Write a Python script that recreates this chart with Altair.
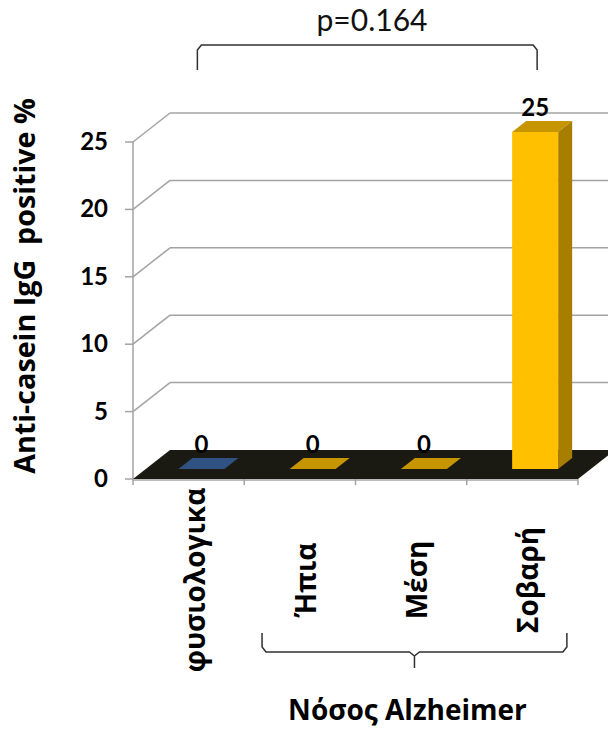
import altair as alt
import numpy as np
import pandas as pd

# ---------------- data ----------------
categories = ["φυσιολογικα", "Ήπια", "Μέση", "Σοβαρή"]
values = [0, 0, 0, 25]
front_colors = ["#3F68A8", "#FFC000", "#FFC000", "#FFC000"]
top_colors = ["#2F5282", "#C69500", "#C69500", "#C69500"]
side_colors = ["#2A4670", "#A87E00", "#A87E00", "#A87E00"]
y_ticks = [0, 5, 10, 15, 20, 25]
p_label = "p=0.164"
group_label = "Νόσος Alzheimer"
y_title = "Anti-casein IgG\u00a0 positive %"
group_members = [1, 2, 3]  # categories covered by the Alzheimer brace

# ---------------- geometry ----------------
W, H = 608, 735
X0, UX = 133.0, 111.25      # pixel of category origin, pixels per category
Y0, UY = 479.0, 13.48       # pixel of value 0, pixels per value unit
xmin, xmax = -X0 / UX, (W - X0) / UX
ymin, ymax = (Y0 - H) / UY, Y0 / UY


def ux(px):
    return (px - X0) / UX


def vy(py):
    return (Y0 - py) / UY


DU, DV = 37 / UX, 29 / UY          # depth of the floor
du_f, dv_f = DU * 10 / 29, DV * 10 / 29
du_b, dv_b = DU * 21 / 29, DV * 21 / 29
ddu, ddv = du_b - du_f, dv_b - dv_f
hw = 23 / UX

xs = alt.Scale(domain=[xmin, xmax], nice=False, zero=False)
ys = alt.Scale(domain=[ymin, ymax], nice=False, zero=False)
n = len(categories)
GRID = "#A3A3A3"

# bars
centers = np.arange(n) + 0.5 + du_f
bars = pd.DataFrame({
    "cat": categories, "val": values, "fc": front_colors,
    "xl": centers - hw, "xr": centers + hw,
    "y0": [dv_f] * n, "y1": [v + dv_f for v in values],
    "c": centers, "lab": [str(v) for v in values],
    "ly": [v + dv_b + 5.5 / UY for v in values],
})

top_rows, side_rows = [], []
for i, v in enumerate(values):
    xl, xr = centers[i] - hw, centers[i] + hw
    top_rows += [
        {"id": i, "v": v + dv_f, "a": xl, "b": xr, "col": top_colors[i]},
        {"id": i, "v": v + dv_b, "a": xl + ddu, "b": xr + ddu, "col": top_colors[i]},
    ]
    if v > 0:
        side_rows += [
            {"id": i, "u": xr, "lo": dv_f, "hi": v + dv_f, "col": side_colors[i]},
            {"id": i, "u": xr + ddu, "lo": dv_b, "hi": v + dv_b, "col": side_colors[i]},
        ]
tops = pd.DataFrame(top_rows)
sides = pd.DataFrame(side_rows)

floor = pd.DataFrame({"v": [0, DV], "a": [0, DU], "b": [n, n + DU]})

gl = [t for t in y_ticks if t > 0]
back_grid = pd.DataFrame({"x": [DU] * len(gl), "x2": [xmax] * len(gl),
                          "y": [t + DV for t in gl]})
diag_grid = pd.DataFrame({"x": [0] * len(gl), "x2": [DU] * len(gl),
                          "y": gl, "y2": [t + DV for t in gl]})

yticks_df = pd.DataFrame({"x": [-8 / UX] * len(y_ticks), "x2": [0] * len(y_ticks),
                          "y": y_ticks, "lx": [ux(108)] * len(y_ticks),
                          "t": [str(t) for t in y_ticks]})

xticks = pd.DataFrame({"x": list(range(n + 1)), "y": [0] * (n + 1),
                       "y2": [-6 / UY] * (n + 1)})

xlabels = pd.DataFrame({"x": np.arange(n) + 0.5 + 8 / UX,
                        "y": [vy(580)] * n, "t": categories})

# top bracket between first and last bar
L, R = centers[0] - 4 / UX, centers[-1] + 2 / UX
bt, bb = vy(45), vy(70)
top_br = pd.DataFrame({
    "x": [L, L, L + 4 / UX, R - 4 / UX, R, R],
    "y": [bb, vy(50), bt, bt, vy(50), bb],
    "o": list(range(6)),
})

# brace under the Alzheimer categories
gL, gR = group_members[0] + 0.16, group_members[-1] + 0.9
gm = (gL + gR) / 2
yt, yh, yb = vy(633), vy(652), vy(668)
brace = pd.DataFrame({
    "x": [gL, gL, gL + 4 / UX, gm - 5 / UX, gm, gm, gm, gm + 5 / UX, gR - 4 / UX, gR, gR],
    "y": [yt, vy(647), yh, yh, vy(656), yb, vy(656), yh, yh, vy(647), yt],
    "o": list(range(11)),
})

texts = pd.DataFrame({"x": [ux(372)], "y": [vy(22)], "t": [p_label]})
gtext = pd.DataFrame({"x": [gm - 7 / UX], "y": [vy(712)], "t": [group_label]})
ytitle = pd.DataFrame({"x": [ux(26)], "y": [vy(286)], "t": [y_title]})
axis_line = pd.DataFrame({"x": [0], "y": [0], "y2": [max(y_ticks)]})
x_line = pd.DataFrame({"x": [0], "x2": [n], "y": [-1 / UY]})

FONT = "Lato"
GFONT = "Open Sans"


def X(f):
    return alt.X(f, scale=xs, axis=None)


def Y(f):
    return alt.Y(f, scale=ys, axis=None)


# ---------------- layers ----------------
axis_layer = alt.Chart(axis_line).mark_rule(color=GRID, strokeWidth=1.5).encode(
    x=X("x:Q"), y=Y("y:Q"), y2="y2:Q")

ytick_layer = alt.Chart(yticks_df).mark_rule(color=GRID, strokeWidth=1.5).encode(
    x=X("x:Q"), x2="x2:Q", y=Y("y:Q"))
ylab_layer = alt.Chart(yticks_df).mark_text(
    font=FONT, fontSize=24, fontWeight="bold", color="black",
    align="right", baseline="middle", dy=1).encode(
    x=X("lx:Q"), y=Y("y:Q"), text="t:N")

back_layer = alt.Chart(back_grid).mark_rule(color=GRID, strokeWidth=1.5).encode(
    x=X("x:Q"), x2="x2:Q", y=Y("y:Q"))
diag_layer = alt.Chart(diag_grid).mark_rule(color=GRID, strokeWidth=1.5).encode(
    x=X("x:Q"), x2="x2:Q", y=Y("y:Q"), y2="y2:Q")

floor_layer = alt.Chart(floor).mark_area(orient="horizontal", color="#1B1A12").encode(
    y=Y("v:Q"), x=X("a:Q"), x2="b:Q")

xline_layer = alt.Chart(x_line).mark_rule(color=GRID, strokeWidth=1.5).encode(
    x=X("x:Q"), x2="x2:Q", y=Y("y:Q"))
xtick_layer = alt.Chart(xticks).mark_rule(color=GRID, strokeWidth=1.5).encode(
    x=X("x:Q"), y=Y("y:Q"), y2="y2:Q")

top_layer = alt.Chart(tops).mark_area(orient="horizontal").encode(
    y=alt.Y("v:Q", scale=ys, axis=None, stack=None),
    x=alt.X("a:Q", scale=xs, axis=None, stack=None), x2="b:Q",
    detail="id:N",
    color=alt.Color("col:N", scale=None, legend=None),
)
side_layer = alt.Chart(sides).mark_area(orient="vertical").encode(
    x=alt.X("u:Q", scale=xs, axis=None, stack=None),
    y=alt.Y("lo:Q", scale=ys, axis=None, stack=None), y2="hi:Q",
    detail="id:N",
    color=alt.Color("col:N", scale=None, legend=None),
)
front_layer = alt.Chart(bars).transform_filter("datum.val > 0").mark_rect().encode(
    x=X("xl:Q"), x2="xr:Q", y=Y("y0:Q"), y2="y1:Q",
    color=alt.Color("fc:N", scale=None, legend=None),
)

lab_layer = alt.Chart(bars).mark_text(
    font=FONT, fontSize=24, fontWeight="bold", color="black",
    align="center", baseline="alphabetic").encode(
    x=X("c:Q"), y=Y("ly:Q"), text="lab:N")

xlab_layer = alt.Chart(xlabels).mark_text(
    font=GFONT, fontSize=28, fontWeight="bold", color="black", angle=270,
    align="center", baseline="middle").encode(
    x=X("x:Q"), y=Y("y:Q"), text="t:N")

topbr_layer = alt.Chart(top_br).mark_line(color="#303030", strokeWidth=1.5).encode(
    x=X("x:Q"), y=Y("y:Q"), order="o:Q")
brace_layer = alt.Chart(brace).mark_line(color="#303030", strokeWidth=1.5).encode(
    x=X("x:Q"), y=Y("y:Q"), order="o:Q")

p_layer = alt.Chart(texts).mark_text(
    font=FONT, fontSize=30, color="#111111", align="center", baseline="middle").encode(
    x=X("x:Q"), y=Y("y:Q"), text="t:N")
g_layer = alt.Chart(gtext).mark_text(
    font=GFONT, fontSize=28, fontWeight="bold", color="black",
    align="center", baseline="middle").encode(
    x=X("x:Q"), y=Y("y:Q"), text="t:N")
yt_layer = alt.Chart(ytitle).mark_text(
    font=GFONT, fontSize=28.7, fontWeight="bold", color="black", angle=270,
    align="center", baseline="middle").encode(
    x=X("x:Q"), y=Y("y:Q"), text="t:N")

chart = alt.layer(
    back_layer, diag_layer, axis_layer, ytick_layer, ylab_layer,
    floor_layer, xline_layer, xtick_layer,
    top_layer, side_layer, front_layer, lab_layer, xlab_layer,
    topbr_layer, brace_layer, p_layer, g_layer, yt_layer,
).properties(
    width=W, height=H, padding=0, autosize=alt.AutoSizeParams(type="none"),
    background="white",
).configure_view(stroke=None)

chart.save("out.html", embed_options={"renderer": "svg", "actions": False})
